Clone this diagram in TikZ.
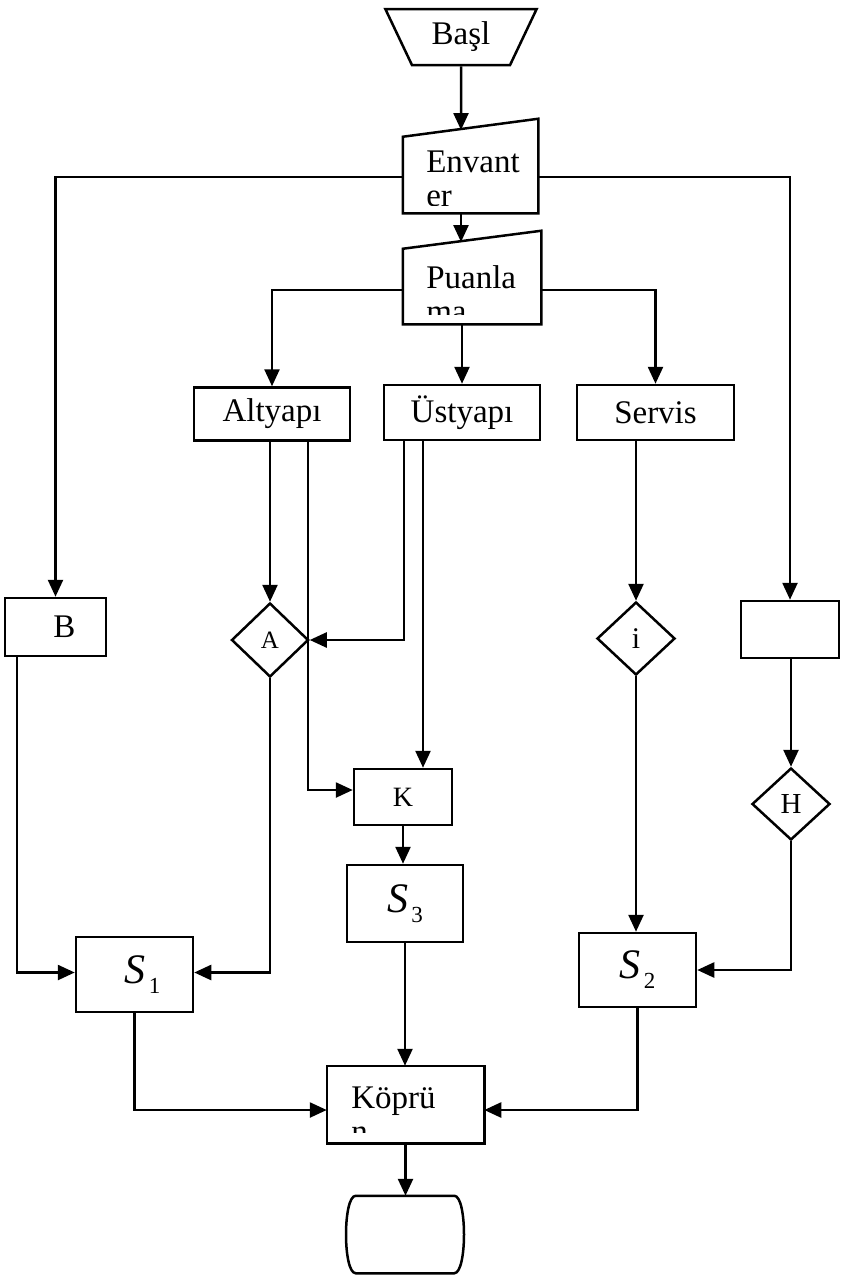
\documentclass[tikz,border=0pt]{standalone}
\usepackage{fontspec}
\setmainfont{Liberation Serif}
\usetikzlibrary{arrows.meta,shapes.geometric}

\newcommand{\sname}[1]{{\fontsize{42}{42}\selectfont\textit{S}}\kern3pt\raisebox{-10pt}{\fontsize{23}{23}\selectfont #1}}

\begin{document}
\begin{tikzpicture}[x=1pt, y=-1pt, line width=2.5pt, font=\fontsize{33}{34}\selectfont]
\useasboundingbox (0,0) rectangle (848,1277);
\begin{scope}[every node/.style={rectangle,draw,inner sep=0pt}]
    \node[trapezium, trapezium stretches=true, shape border rotate=180,
          trapezium left angle=62, trapezium right angle=62,
          minimum width=152pt, minimum height=56pt] (basl) at (461,37) {Başl};
    \node[draw=none, minimum width=133pt, minimum height=92pt] (env) at (470.5,166) {};
    \node[draw=none, minimum width=136pt, minimum height=91pt] (pua) at (472,277.5) {};
    \node[minimum width=156pt, minimum height=53pt] (alt) at (272,414) {Altyapı};
    \node[minimum width=156pt, minimum height=55pt] (ust) at (462,412.5) {Üstyapı};
    \node[minimum width=157pt, minimum height=55pt] (srv) at (655.5,412.5) {Servis};
    \node[minimum width=101pt, minimum height=58pt] (b) at (55.5,627) {\hspace{18pt}B};
    \node[diamond, minimum width=77pt, minimum height=74pt, font=\fontsize{25}{25}\selectfont] (a) at (270,640) {A};
    \node[diamond, minimum width=78pt, minimum height=73pt, font=\fontsize{30}{30}\selectfont] (i) at (636,638.5) {i};
    \node[minimum width=98pt, minimum height=57pt] (r) at (790,629.5) {};
    \node[diamond, minimum width=78pt, minimum height=72pt, font=\fontsize{29}{29}\selectfont] (h) at (791,804) {H};
    \node[minimum width=98pt, minimum height=56pt, font=\fontsize{28}{28}\selectfont] (k) at (403,797) {K};
    \node[minimum width=116pt, minimum height=77pt] (s3) at (405,903.5) {\sname{3}};
    \node[minimum width=117pt, minimum height=75pt] (s1) at (134.5,974.5) {\hspace{16pt}\sname{1}};
    \node[minimum width=117pt, minimum height=74pt] (s2) at (637.5,970) {\sname{2}};
    \node[draw=none, minimum width=155pt, minimum height=75pt] (kop) at (405.5,1104.5) {};
    \node[draw=none, minimum width=116pt, minimum height=75pt] (fin) at (405,1234.5) {};
\end{scope}
% manual input boxes and end shape
\draw (env.south west) -- ([yshift=-18pt]env.north west) -- (env.north east) -- (env.south east) -- cycle;
\draw (pua.south west) -- ([yshift=-18pt]pua.north west) -- (pua.north east) -- (pua.south east) -- cycle;
\draw (kop.south west) rectangle (kop.north east);
\draw ([xshift=10pt]fin.north west) -- ([xshift=-10pt]fin.north east)
      .. controls ([xshift=3pt]fin.north east) and ([xshift=3pt]fin.south east) .. ([xshift=-10pt]fin.south east)
      -- ([xshift=10pt]fin.south west)
      .. controls ([xshift=-3pt]fin.south west) and ([xshift=-3pt]fin.north west) .. cycle;
\begin{scope}[every node/.style={inner sep=0pt, anchor=north west, align=left}]
    \begin{scope}
        \clip ([yshift=8pt]env.south west) rectangle (env.north east);
        \node (env-t) at (425,150) {Envant\\er};
    \end{scope}
    \begin{scope}
        \clip ([yshift=10pt]pua.south west) rectangle (pua.north east);
        \node (pua-t) at (425,264) {Puanla\\ma};
    \end{scope}
    \begin{scope}
        \clip ([yshift=11pt]kop.south west) rectangle (kop.north east);
        \node (kop-t) at (350,1086) {Köprü\\n};
    \end{scope}
\end{scope}
\begin{scope}[>={Triangle[length=17pt,width=15pt]}]
    \coordinate (envtop) at (461,130);
    \coordinate (puatop) at (461,242);
    \coordinate (alt-r) at ([xshift=36pt]alt.south);
    \coordinate (ust-l) at ([xshift=-58pt]ust.south);
    \coordinate (ust-r) at ([xshift=-39pt]ust.south);
    \coordinate (b-l) at ([xshift=-38.5pt]b.south);
    \draw[->] (basl.south) -- (envtop);
    \draw[->] (env.south -| puatop) -- (puatop);
    \draw[->] ([yshift=-11pt]env.west) -| (b.north);
    \draw[->] ([yshift=-11pt]env.east) -| (r.north);
    \draw[->] ([yshift=-12.5pt]pua.west) -| (alt.north);
    \draw[->] ([yshift=-12.5pt]pua.east) -| (srv.north);
    \draw[->] (pua.south -| ust.north) -- (ust.north);
    \draw[->] (alt.south -| a.north) -- (a.north);
    \draw[->] (alt-r) |- ([yshift=7pt]k.west);
    \draw[->] (ust-l) |- (a.east);
    \draw[->] (ust-r) -- (ust-r |- k.north);
    \draw[->] (k.south) -- (k.south |- s3.north);
    \draw[->] (s3.south) -- (s3.south |- kop.north);
    \draw[->] (kop.south) -- (kop.south |- fin.north);
    \draw[->] (b-l) |- ([yshift=2pt]s1.west);
    \draw[->] (a.south) |- ([yshift=2pt]s1.east);
    \draw[->] (s1.south) |- ([yshift=-5.5pt]kop.west);
    \draw[->] (srv.south -| i.north) -- (i.north);
    \draw[->] (i.south) -- (i.south |- s2.north);
    \draw[->] (r.south -| h.north) -- (h.north);
    \draw[->] (h.south) |- (s2.east);
    \draw[->] (s2.south) |- ([yshift=-5.5pt]kop.east);
\end{scope}
\end{tikzpicture}
\end{document}
